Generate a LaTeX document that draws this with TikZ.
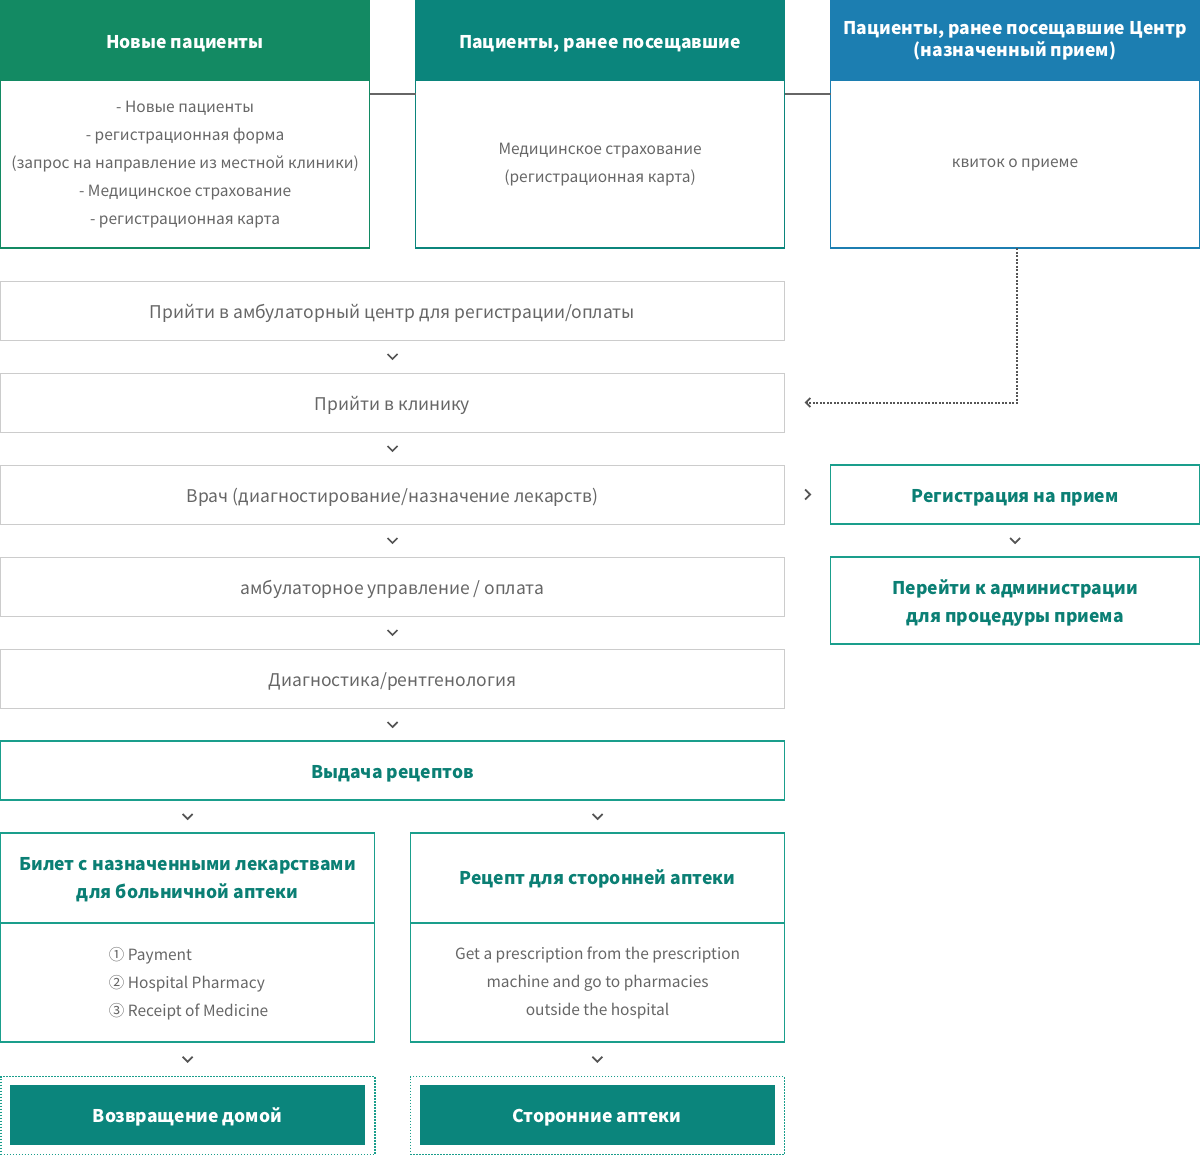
\documentclass[tikz,border=0pt]{standalone}
\usepackage{fontspec}
\setmainfont{Noto Sans CJK KR}
\usetikzlibrary{arrows.meta,calc}
\definecolor{hgreen}{HTML}{138A63}
\definecolor{hteal}{HTML}{0B857C}
\definecolor{hblue}{HTML}{1C7EB1}
\definecolor{tline}{HTML}{1A9E8C}
\definecolor{ttext}{HTML}{0B7F74}
\definecolor{gline}{HTML}{CCCCCC}
\definecolor{gtext}{HTML}{666666}
\definecolor{chevc}{HTML}{555555}
\newcommand\mySmall{\fontsize{15.5}{28}\selectfont}
\newcommand\myMid{\fontsize{17.5}{28}\selectfont}
\newcommand\myBold{\fontsize{17.5}{28}\selectfont\bfseries}
\newcommand\myHead{\fontsize{17.5}{28}\selectfont\bfseries}
\newcommand\myHeadTwo{\fontsize{17.5}{22}\selectfont\bfseries}
\newcommand\ctr[2][-2pt]{\raisebox{#1}[\height][\depth]{\begin{tabular}{@{}c@{}}#2\end{tabular}}}
\newcommand\lft[2][0pt]{\raisebox{#1}[\height][\depth]{\begin{tabular}{@{}l@{}}#2\end{tabular}}}
\tikzset{
  box/.style={anchor=north west, inner sep=0pt, outer sep=0pt},
  hdr/.style={box, minimum width=370pt, minimum height=80pt, text=white, font=\myHead},
  hbody/.style={box, draw, line width=1.2pt, minimum width=369pt, minimum height=168pt, font=\mySmall, text=gtext},
  graybox/.style={box, draw=gline, line width=1pt, minimum width=784pt, minimum height=59pt, font=\myMid, text=gtext},
  tealbox/.style={box, draw=tline, line width=1.2pt, font=\myBold, text=ttext},
  tealbody/.style={box, draw=tline, line width=1.2pt, font=\mySmall, text=gtext},
  dotbox/.style={box, draw=tline, line width=1.5pt, dash pattern=on 1.5pt off 1.5pt, minimum width=374pt, minimum height=78pt},
  fillbox/.style={box, fill=hteal, minimum width=355pt, minimum height=60pt, text=white, font=\myBold},
  link/.style={draw=gtext, line width=1.2pt},
  dotlink/.style={draw=chevc, line width=2pt, dash pattern=on 2pt off 1.5pt},
  chevd/.pic={\draw[chevc, line width=1.7pt] (-5,-2.5) -- (0,2.5) -- (5,-2.5);},
  chevr/.pic={\draw[chevc, line width=1.7pt] (-2.5,-5) -- (2.5,0) -- (-2.5,5);}
}
\begin{document}
\begin{tikzpicture}[x=1pt,y=-1pt]
\useasboundingbox (0,0) rectangle (1200,1156);
% header columns
\node[hdr, fill=hgreen] (h1) at (0,0) {\ctr[-3pt]{Новые пациенты}};
\node[hdr, fill=hteal] (h2) at (415,0) {\ctr[-3pt]{Пациенты, ранее посещавшие}};
\node[hdr, fill=hblue, font=\myHeadTwo] (h3) at (830,0) {\ctr[-1pt]{Пациенты, ранее посещавшие Центр\\(назначенный прием)}};
\node[hbody, draw=hgreen] (b1) at (0.6,80) {\ctr[1pt]{- Новые пациенты\\- регистрационная форма\\(запрос на направление из местной клиники)\\- Медицинское страхование\\- регистрационная карта}};
\node[hbody, draw=hteal] (b2) at (415.6,80) {\ctr[1pt]{Медицинское страхование\\(регистрационная карта)}};
\node[hbody, draw=hblue] (b3) at (830.6,80) {\ctr[2pt]{квиток о приеме}};
\draw[link] ([yshift=-14pt]b1.north east) -- ([yshift=-14pt]b2.north west);
\draw[link] ([yshift=-14pt]b2.north east) -- ([yshift=-14pt]b3.north west);
% gray steps
\node[graybox] (g1) at (0.5,281) {\ctr{Прийти в амбулаторный центр для регистрации/оплаты}};
\node[graybox] (g2) at (0.5,373) {\ctr{Прийти в клинику}};
\node[graybox] (g3) at (0.5,465) {\ctr{Врач (диагностирование/назначение лекарств)}};
\node[graybox] (g4) at (0.5,557) {\ctr{амбулаторное управление / оплата}};
\node[graybox] (g5) at (0.5,649) {\ctr{Диагностика/рентгенология}};
\node[tealbox, minimum width=784pt, minimum height=59pt] (rx) at (0.6,741) {\ctr{Выдача рецептов}};
\pic at ($(g1.south)!0.5!(g2.north)$) {chevd};
\pic at ($(g2.south)!0.5!(g3.north)$) {chevd};
\pic at ($(g3.south)!0.5!(g4.north)$) {chevd};
\pic at ($(g4.south)!0.5!(g5.north)$) {chevd};
\pic at ($(g5.south)!0.5!(rx.north)$) {chevd};
% lower branches
\node[tealbox, minimum width=374pt, minimum height=90pt] (lt) at (0.6,833) {\ctr[-1pt]{Билет с назначенными лекарствами\\для больничной аптеки}};
\node[tealbody, minimum width=374pt, minimum height=119pt] (lb) at (0.6,923) {};
\node[font=\mySmall, text=gtext, inner sep=0pt] (lbt) at ([xshift=1pt]lb.center) {\lft{① Payment\\② Hospital Pharmacy\\③ Receipt of Medicine}};
\node[tealbox, minimum width=374pt, minimum height=90pt] (rt) at (410.6,833) {\ctr[-1pt]{Рецепт для сторонней аптеки}};
\node[tealbody, minimum width=374pt, minimum height=119pt] (rb) at (410.6,923) {\ctr[1pt]{Get a prescription from the prescription\\machine and go to pharmacies\\outside the hospital}};
\pic at ($(rx.south -| lt.north)!0.5!(lt.north)$) {chevd};
\pic at ($(rx.south -| rt.north)!0.5!(rt.north)$) {chevd};
% final boxes
\node[dotbox] (ld) at (0.75,1076.5) {};
\node[fillbox] (lf) at (10,1085) {\ctr{Возвращение домой}};
\node[dotbox] (rd) at (410.25,1076.5) {};
\node[fillbox] (rf) at (419.5,1085) {\ctr{Сторонние аптеки}};
\pic at ($(lb.south)!0.5!(ld.north)$) {chevd};
\pic at ($(rb.south)!0.5!(rd.north)$) {chevd};
% right column
\node[tealbox, minimum width=369pt, minimum height=59pt] (reg) at (830.6,465) {\ctr{Регистрация на прием}};
\node[tealbox, minimum width=369pt, minimum height=87pt] (adm) at (830.6,557) {\ctr{Перейти к администрации\\для процедуры приема}};
\pic at ($(reg.south)!0.5!(adm.north)$) {chevd};
\pic at ($(g3.east)!0.5!(reg.west)$) {chevr};
\coordinate (aend) at ([xshift=20pt]g2.east);
\draw[dotlink, arrows={-Straight Barb[length=4.5pt, width=9pt, line width=1.8pt]}] ([xshift=2pt]b3.south) |- (aend);
\end{tikzpicture}
\end{document}
